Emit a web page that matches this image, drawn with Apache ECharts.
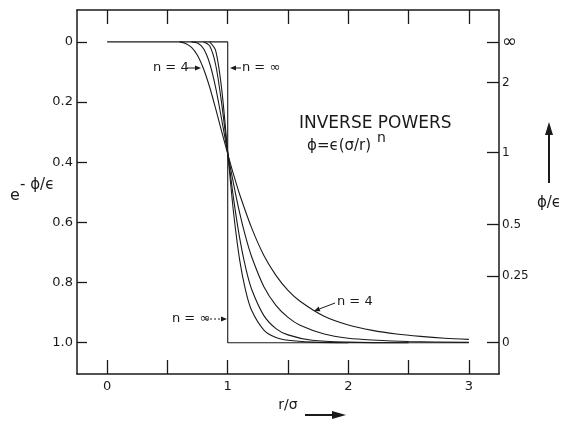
<!DOCTYPE html>
<html>
<head>
<meta charset="utf-8">
<script src="https://cdn.jsdelivr.net/npm/echarts@6/dist/echarts.min.js"></script>
<style>
  html, body { margin: 0; padding: 0; background: #fff; }
  #main { width: 568px; height: 424px; }
</style>
</head>
<body>
<div id="main"></div>
<script>
// ticks
var xTicks = [0, 0.5, 1, 1.5, 2, 2.5, 3];
var xLabels = [0, 1, 2, 3];
var yTicks = [0, 0.2, 0.4, 0.6, 0.8, 1.0];
var yLabels = ['0', '0.2', '0.4', '0.6', '0.8', '1.0'];
var rightTicks = [0, 0.135, 0.368, 0.607, 0.779, 1.0];
var rightLabels = ['∞', '2', '1', '0.5', '0.25', '0'];

// curves: [r/σ, e^-φ/ϵ]
var nInf = [[0, 0], [1, 0], [1, 1], [3, 1]];
var n4 = [[0.6, 0], [0.65, 0.005], [0.7, 0.018], [0.75, 0.045], [0.8, 0.09], [0.85, 0.15],
  [0.9, 0.222], [0.95, 0.298], [1.0, 0.372], [1.05, 0.443], [1.1, 0.508], [1.2, 0.62],
  [1.3, 0.71], [1.4, 0.776], [1.5, 0.826], [1.6, 0.862], [1.8, 0.912], [2.0, 0.941],
  [2.2, 0.959], [2.4, 0.971], [2.6, 0.979], [2.8, 0.985], [3.0, 0.989]];
var n6 = [[0.7, 0], [0.75, 0.004], [0.8, 0.023], [0.85, 0.071], [0.9, 0.152], [0.95, 0.258],
  [1.0, 0.37], [1.05, 0.475], [1.1, 0.57], [1.15, 0.65], [1.2, 0.716], [1.3, 0.814],
  [1.4, 0.876], [1.5, 0.916], [1.6, 0.942], [1.8, 0.971], [2.0, 0.985], [2.2, 0.991],
  [2.5, 0.996], [3.0, 0.999]];
var n9 = [[0.8, 0], [0.85, 0.013], [0.9, 0.076], [0.95, 0.205], [1.0, 0.369], [1.05, 0.525],
  [1.1, 0.654], [1.15, 0.753], [1.2, 0.824], [1.3, 0.91], [1.4, 0.953], [1.5, 0.974],
  [1.7, 0.992], [2.0, 0.998], [2.5, 1.0]];
var n12 = [[0.85, 0], [0.9, 0.029], [0.95, 0.157], [1.0, 0.368], [1.05, 0.573], [1.1, 0.727],
  [1.15, 0.829], [1.2, 0.894], [1.3, 0.958], [1.4, 0.983], [1.5, 0.992], [1.7, 0.998],
  [2.0, 1.0]];

var ink = '#1a1a1a';
var font = '"DejaVu Sans", sans-serif';

function arrow(x1, y1, x2, y2, opt) {
  opt = opt || {};
  var h = opt.head || 6, w = opt.wide || 2.5;
  var a = Math.atan2(y2 - y1, x2 - x1);
  var bx = x2 - h * Math.cos(a), by = y2 - h * Math.sin(a);
  return {
    type: 'group',
    children: [
      { type: 'line', shape: { x1: x1, y1: y1, x2: bx, y2: by },
        style: { stroke: ink, lineWidth: opt.lw || 1, lineDash: opt.dash || null } },
      { type: 'polygon', shape: { points: [[x2, y2],
          [bx + w * Math.sin(a), by - w * Math.cos(a)],
          [bx - w * Math.sin(a), by + w * Math.cos(a)]] },
        style: { fill: ink } }
    ]
  };
}

function txt(x, y, s, size, align) {
  return { type: 'text', x: x, y: y,
    style: { text: s, font: size + 'px ' + font, fill: ink, align: align || 'left', verticalAlign: 'middle' } };
}

function curve(name, data) {
  return { name: name, type: 'line', data: data, showSymbol: false, smooth: 0.3,
    lineStyle: { color: ink, width: 1.1 }, xAxisIndex: 0, yAxisIndex: 0, z: 3 };
}

var myChart = echarts.init(document.getElementById('main'));
var axisLine = { show: true, onZero: false, lineStyle: { color: ink, width: 1.5 } };

option = {
  animation: false,
  grid: { left: 77, right: 69, top: 10, bottom: 50 },
  xAxis: [
    { type: 'value', position: 'bottom', min: -0.25, max: 3.25,
      axisLine: axisLine, splitLine: { show: false },
      axisTick: { inside: true, length: 14, customValues: xTicks, lineStyle: { color: ink, width: 1.3 } },
      axisLabel: { customValues: xLabels, margin: 6, color: ink, fontSize: 13, fontFamily: font } },
    { type: 'value', position: 'top', min: -0.25, max: 3.25,
      axisLine: axisLine, splitLine: { show: false },
      axisTick: { inside: true, length: 14, customValues: xTicks, lineStyle: { color: ink, width: 1.3 } },
      axisLabel: { show: false } }
  ],
  yAxis: [
    { type: 'value', position: 'left', inverse: true, min: -0.106, max: 1.104,
      axisLine: axisLine, splitLine: { show: false },
      axisTick: { inside: true, length: 10, customValues: yTicks, lineStyle: { color: ink, width: 1.3 } },
      axisLabel: { customValues: yTicks, margin: 4, color: ink, fontSize: 13, fontFamily: font,
        formatter: function (v) { return yLabels[yTicks.indexOf(v)]; } } },
    { type: 'value', position: 'right', inverse: true, min: -0.106, max: 1.104,
      axisLine: axisLine, splitLine: { show: false },
      axisTick: { inside: true, length: 12, customValues: rightTicks, lineStyle: { color: ink, width: 1.3 } },
      axisLabel: { customValues: rightTicks, margin: 3, color: ink, fontSize: 12, fontFamily: font,
        formatter: function (v) {
          var s = rightLabels[rightTicks.indexOf(v)];
          return s === '∞' ? '{inf|∞}' : s;
        },
        rich: { inf: { fontSize: 18, fontFamily: font, color: ink } } } }
  ],
  series: [
    { name: 'n=∞', type: 'line', data: nInf, showSymbol: false,
      lineStyle: { color: ink, width: 1.1 }, z: 3 },
    curve('n=4', n4),
    curve('n=6', n6),
    curve('n=9', n9),
    curve('n=12', n12)
  ],
  graphic: [
    txt(153, 68, 'n = 4', 13),
    arrow(187, 68, 201, 68),
    txt(242, 68, 'n = ∞', 13),
    arrow(241, 68, 230, 68),
    txt(172, 319, 'n = ∞', 13),
    arrow(206, 319, 227, 319, { dash: [2, 2] }),
    txt(337, 302, 'n = 4', 13),
    arrow(335, 303, 314, 311),
    txt(299, 124, 'INVERSE POWERS', 17),
    txt(307, 146, 'ϕ=ϵ(σ/r)', 15),
    txt(377, 138, 'n', 14),
    txt(10, 196, 'e', 16),
    txt(20, 185, '- ϕ/ϵ', 15),
    arrow(549, 183, 549, 122, { head: 13, wide: 4, lw: 2 }),
    txt(549, 203, 'ϕ/ϵ', 15, 'center'),
    txt(288, 405, 'r/σ', 14, 'center'),
    arrow(305, 415, 346, 415, { head: 14, wide: 4, lw: 2 })
  ]
};
option && myChart.setOption(option);
</script>
</body>
</html>
